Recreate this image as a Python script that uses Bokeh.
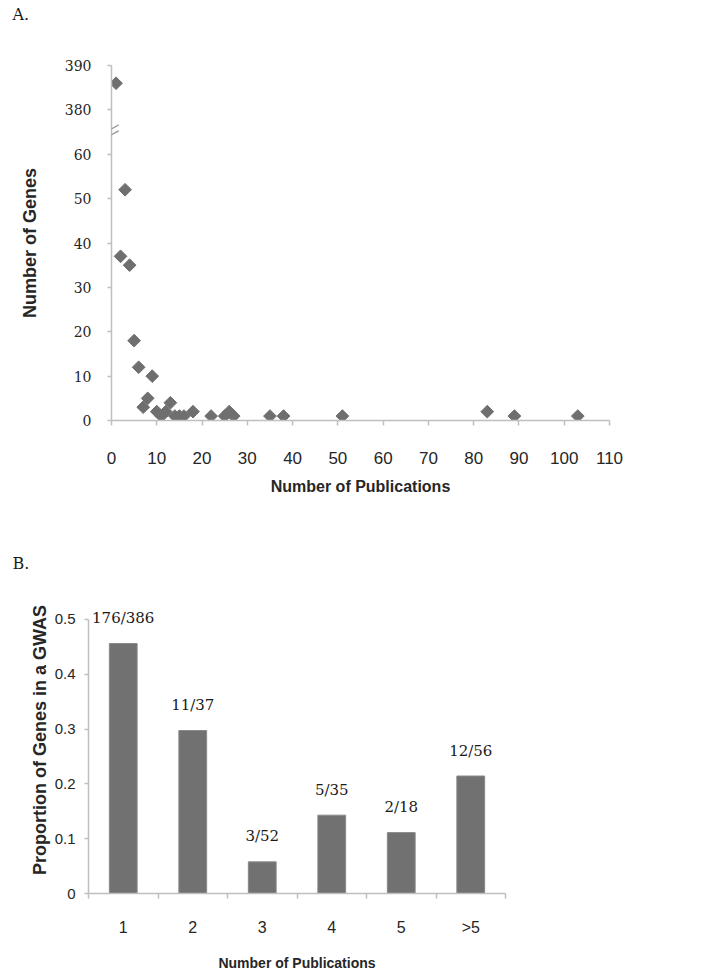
from bokeh.plotting import figure
from bokeh.layouts import column, row
from bokeh.models import FixedTicker, Range1d, Arrow, Title, LabelSet, ColumnDataSource
from bokeh.embed import file_html
from bokeh.resources import INLINE
from bokeh.core.properties import value

# ---------------- data ----------------
# Panel A: number of genes studied in N publications
pubs = [1, 2, 3, 4, 5, 6, 7, 8, 9, 10, 11, 12, 13, 14, 15, 16, 18, 22, 25, 26, 27, 35, 38, 51, 83, 89, 103]
genes = [386, 37, 52, 35, 18, 12, 3, 5, 10, 2, 1, 2, 4, 1, 1, 1, 2, 1, 1, 2, 1, 1, 1, 1, 2, 1, 1]

x_ticks_a = [0, 10, 20, 30, 40, 50, 60, 70, 80, 90, 100, 110]
y_ticks_low = [0, 10, 20, 30, 40, 50, 60]
y_ticks_high = [380, 390]

# Panel B: proportion of genes found in a GWAS
categories = ["1", "2", "3", "4", "5", ">5"]
gwas_genes = [176, 11, 3, 5, 2, 12]
total_genes = [386, 37, 52, 35, 18, 56]
y_ticks_b = [0, 0.1, 0.2, 0.3, 0.4, 0.5]

# ---------------- styles ----------------
GRAY = "#6f6f6f"
AXIS = "#bfbfbf"
TXT = "#262626"
SANS = "Liberation Sans"
SERIF = "DejaVu Serif"

# broken-axis mapping: values above the break are shifted down
BREAK_LOW = 60
SHIFT = 310


def broken(v):
    return v if v <= BREAK_LOW else v - SHIFT


def style_common(p):
    p.outline_line_color = None
    p.xgrid.visible = False
    p.ygrid.visible = False
    p.background_fill_color = "white"
    p.border_fill_color = "white"
    for ax in (p.xaxis[0], p.yaxis[0]):
        ax.axis_line_color = AXIS
        ax.axis_line_width = 1.5
        ax.major_tick_line_color = AXIS
        ax.major_tick_line_width = 1.5
        ax.minor_tick_line_color = None
        ax.major_tick_in = 0
        ax.major_label_text_color = TXT
        ax.axis_label_text_color = TXT
        ax.axis_label_text_font_style = "bold"


# ---------------- panel A ----------------
p1 = figure(width=704, height=500, x_range=Range1d(0, 110), y_range=Range1d(0, 80),
            output_backend="svg", toolbar_location=None, title_location=None,
            min_border_left=111, min_border_right=95, min_border_top=65, min_border_bottom=80)
style_common(p1)

p1.scatter(x=pubs, y=[broken(g) for g in genes], marker="square", angle=0.785398,
           size=9, fill_color=GRAY, line_color=GRAY)

p1.xaxis.ticker = FixedTicker(ticks=x_ticks_a)
p1.xaxis.major_tick_out = 5
p1.xaxis.major_label_text_font = SANS
p1.xaxis.major_label_text_font_size = "17px"
p1.xaxis.major_label_standoff = 26
p1.xaxis.axis_label = "Number of Publications"
p1.xaxis.axis_label_text_font = SANS
p1.xaxis.axis_label_text_font_size = "16px"
p1.xaxis.axis_label_standoff = 11

ticks_a = y_ticks_low + [broken(v) for v in y_ticks_high]
p1.yaxis.ticker = FixedTicker(ticks=ticks_a)
p1.yaxis.major_label_overrides = {broken(v): str(v) for v in y_ticks_high}
p1.yaxis.major_tick_out = 4
p1.yaxis.major_label_text_font = SERIF
p1.yaxis.major_label_text_font_size = "14px"
p1.yaxis.major_label_standoff = 16
p1.yaxis.axis_label = "Number of Genes"
p1.yaxis.axis_label_text_font = SANS
p1.yaxis.axis_label_text_font_size = "18px"
p1.yaxis.axis_label_standoff = 22

# break marks on the y axis
for dy in (0.7, -0.6):
    p1.add_layout(Arrow(end=None, x_start=-1.6, y_start=65 + dy - 0.9,
                        x_end=1.6, y_end=65 + dy + 0.9,
                        line_color="#a0a0a0", line_width=1.5))

# spacer title next to the frame, then the panel letter further out
p1.add_layout(Title(text=" ", text_font_size="2px", standoff=38), "above")
p1.add_layout(Title(text="A.", align="left", offset=-99, vertical_align="bottom", standoff=0,
                    text_font=SERIF, text_font_size="16px", text_font_style="normal",
                    text_color="#1a1a1a"), "above")

# ---------------- panel B ----------------
props = [g / t for g, t in zip(gwas_genes, total_genes)]
xs = list(range(1, len(categories) + 1))
bar_labels = [f"{g}/{t}" for g, t in zip(gwas_genes, total_genes)]

p2 = figure(width=704, height=473, x_range=Range1d(0.5, len(categories) + 0.5), y_range=Range1d(0, 0.56),
            output_backend="svg", toolbar_location=None, title_location=None,
            min_border_left=88, min_border_right=199, min_border_top=86, min_border_bottom=76)
style_common(p2)

p2.vbar(x=xs, top=props, width=0.4, fill_color="#717171", line_color="#8a8a8a", line_width=1)
lab_src = ColumnDataSource(data=dict(x=xs, y=[v + 0.03 for v in props], text=bar_labels))
p2.add_layout(LabelSet(x="x", y="y", text="text", source=lab_src,
                       text_align="center", text_baseline="bottom",
                       text_font=value(SERIF), text_font_size=value("15px"), text_color="#1a1a1a"))

p2.xaxis.ticker = FixedTicker(ticks=xs, minor_ticks=[x - 0.5 for x in xs] + [xs[-1] + 0.5])
p2.xaxis.major_label_overrides = {x: c for x, c in zip(xs, categories)}
p2.xaxis.major_tick_out = 0
p2.xaxis.major_tick_line_color = None
p2.xaxis.minor_tick_line_color = AXIS
p2.xaxis.minor_tick_line_width = 1.5
p2.xaxis.minor_tick_out = 5
p2.xaxis.minor_tick_in = 0
p2.xaxis.major_label_text_font = SANS
p2.xaxis.major_label_text_font_size = "16px"
p2.xaxis.major_label_standoff = 20
p2.xaxis.axis_label = "Number of Publications"
p2.xaxis.axis_label_text_font = SANS
p2.xaxis.axis_label_text_font_size = "14px"
p2.xaxis.axis_label_standoff = 16

p2.yaxis.ticker = FixedTicker(ticks=y_ticks_b)
p2.yaxis.bounds = (0, 0.5)
p2.yaxis.major_tick_out = 4
p2.yaxis.major_label_text_font = SANS
p2.yaxis.major_label_text_font_size = "15px"
p2.yaxis.major_label_standoff = 9
p2.yaxis.axis_label = "Proportion of Genes in a GWAS"
p2.yaxis.axis_label_text_font = SANS
p2.yaxis.axis_label_text_font_size = "18px"
p2.yaxis.axis_label_standoff = 2

p2.add_layout(Title(text="B.", align="left", offset=-76, vertical_align="bottom", standoff=28,
                    text_font=SERIF, text_font_size="16px", text_font_style="normal",
                    text_color="#1a1a1a"), "above")

layout = column(row(p1), row(p2), spacing=0)
open("out.html", "w").write(file_html(layout, INLINE))
